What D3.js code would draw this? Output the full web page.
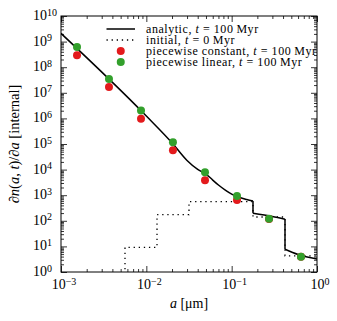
<!DOCTYPE html>
<html><head><meta charset="utf-8">
<script src="https://cdn.jsdelivr.net/npm/d3@7"></script>
<style>
body{margin:0;background:#fff}
svg{display:block}
</style>
</head><body><svg id="c" width="337" height="321" font-family="'Liberation Serif','DejaVu Serif',serif"></svg>
<script>
// ---- data ----
const binEdges = [1e-3, 2.371e-3, 5.623e-3, 1.334e-2, 3.162e-2, 7.499e-2, 0.1778, 0.4217, 1.0];
const initialN = [0, 0, 9.2, 173, 557, 557, 141, 4.3];
const pointA = [1.54e-3, 3.65e-3, 8.66e-3, 2.05e-2, 4.87e-2, 0.1155, 0.274, 0.649];
const constN = [2.92e8, 1.69e7, 9.73e5, 5.68e4, 3.82e3, 6.49e2, 1.17e2, 3.9];
const linearN = [6.15e8, 3.46e7, 2.04e6, 1.16e5, 7.85e3, 9.3e2, 1.21e2, 3.96];
const analyticA = [1e-3, 1e-2, 2e-2, 3e-2, 4e-2, 5e-2, 6e-2, 7e-2, 8.5e-2, 0.1, 0.12, 0.15, 0.1778, 0.1778, 0.3, 0.4217, 0.4217, 0.6, 1.0];
const analyticN = [2.1e9, 1.24e6, 1.11e5, 2.26e4, 1.01e4, 6.7e3, 3.9e3, 2.5e3, 1.55e3, 1.11e3, 8.5e2, 6.8e2, 5.9e2, 1.96e2, 1.47e2, 1.15e2, 7.7, 4.8, 3.2];
const xTickExp = [-3, -2, -1, 0];
const yTickExp = [0, 1, 2, 3, 4, 5, 6, 7, 8, 9, 10];
const legendLabels = [
  ["analytic, ", "t", " = 100\u2009Myr"],
  ["initial, ", "t", " = 0\u2009Myr"],
  ["piecewise constant, ", "t", " = 100\u2009Myr"],
  ["piecewise linear, ", "t", " = 100\u2009Myr"]
];
const red = "#e31a1c", green = "#33a02c";

// ---- layout ----
const L = 61, R = 317, T = 16, B = 272;
const svg = d3.select("#c");
const x = d3.scaleLog().domain([1e-3, 1]).range([L, R]);
const y = d3.scaleLog().domain([1, 1e10]).range([B, T]);

svg.append("clipPath").attr("id", "clip").append("rect")
  .attr("x", L).attr("y", T).attr("width", R - L).attr("height", B - T);

// ---- ticks ----
function allTicks(lo, hi) {
  const out = [];
  for (let e = lo; e < hi; e++) for (let m = 1; m < 10; m++) out.push(m * Math.pow(10, e));
  out.push(Math.pow(10, hi));
  return out;
}
const isMajor = (v, exps) => exps.some(e => Math.abs(Math.log10(v) - e) < 1e-9);
const xMinor = allTicks(-3, 0).filter(v => !isMajor(v, xTickExp));
const yMinor = allTicks(0, 10).filter(v => !isMajor(v, yTickExp));
const xMajor = xTickExp.map(e => Math.pow(10, e));
const yMajor = yTickExp.map(e => Math.pow(10, e));

function addAxis(gen, scale, vals, size, tr) {
  const g = svg.append("g").attr("transform", tr)
    .call(gen(scale).tickValues(vals).tickSize(-size).tickFormat(""));
  g.select(".domain").remove();
  g.selectAll(".tick line").attr("stroke", "#000").attr("stroke-width", 0.8);
  return g;
}
addAxis(d3.axisBottom, x, xMajor, 6, `translate(0,${B})`);
addAxis(d3.axisBottom, x, xMinor, 3, `translate(0,${B})`);
addAxis(d3.axisTop, x, xMajor, 6, `translate(0,${T})`);
addAxis(d3.axisTop, x, xMinor, 3, `translate(0,${T})`);
addAxis(d3.axisLeft, y, yMajor, 6, `translate(${L},0)`);
addAxis(d3.axisLeft, y, yMinor, 3, `translate(${L},0)`);
addAxis(d3.axisRight, y, yMajor, 6, `translate(${R},0)`);
addAxis(d3.axisRight, y, yMinor, 3, `translate(${R},0)`);

// tick labels
const fmtExp = e => (e < 0 ? "\u2212" + (-e) : "" + e);
const xl = svg.append("g").selectAll("text").data(xTickExp).join("text")
  .attr("x", d => x(Math.pow(10, d)) + 3).attr("y", B + 17)
  .attr("text-anchor", "middle").attr("font-size", 14);
xl.append("tspan").text("10");
xl.append("tspan").attr("dy", "-0.45em").attr("font-size", 10).text(d => fmtExp(d));

const yl = svg.append("g").selectAll("text").data(yTickExp).join("text")
  .attr("x", L - 28).attr("y", d => y(Math.pow(10, d)) + 4)
  .attr("text-anchor", "start").attr("font-size", 14);
yl.append("tspan").text("10");
yl.append("tspan").attr("dy", "-0.45em").attr("font-size", 10).text(d => fmtExp(d));

// axis labels
const xlab = svg.append("text").attr("x", (L + R) / 2).attr("y", B + 36)
  .attr("text-anchor", "middle").attr("font-size", 14);
xlab.append("tspan").attr("font-style", "italic").text("a");
xlab.append("tspan").text(" [\u03bcm]");

const ylab = svg.append("text").attr("transform", `translate(${19},${(T + B) / 2}) rotate(-90)`)
  .attr("text-anchor", "middle").attr("font-size", 14.5);
[["\u2202", 0], ["n", 1], ["(", 0], ["a", 1], [", ", 0], ["t", 1], [")/\u2202", 0], ["a", 1], [" [internal]", 0]]
  .forEach(([s, it]) => ylab.append("tspan").attr("font-style", it ? "italic" : "normal").text(s));

// ---- data marks ----
const plot = svg.append("g").attr("clip-path", "url(#clip)");

// initial step distribution
const stepPts = [];
initialN.forEach((v, i) => {
  stepPts.push([binEdges[i], v]);
  stepPts.push([binEdges[i + 1], v]);
});
const yv = v => (v > 0 ? y(v) : B + 20);
plot.append("path")
  .attr("d", d3.line().x(d => x(d[0])).y(d => yv(d[1]))(stepPts))
  .attr("fill", "none").attr("stroke", "#000").attr("stroke-width", 1.3)
  .attr("stroke-dasharray", "1.3,3.8");

// analytic curve: smooth pieces joined by vertical jumps
const smooth = d3.line().x(d => x(d[0])).y(d => y(d[1])).curve(d3.curveMonotoneX);
const straight = d3.line().x(d => x(d[0])).y(d => y(d[1]));
const pieces = [];
{
  let cur = [];
  analyticA.forEach((a, i) => {
    if (i > 0 && a === analyticA[i - 1]) { pieces.push(cur); cur = []; }
    cur.push([a, analyticN[i]]);
  });
  pieces.push(cur);
}
pieces.forEach((p, k) => {
  plot.append("path").attr("d", smooth(p))
    .attr("fill", "none").attr("stroke", "#000").attr("stroke-width", 1.5);
  if (k < pieces.length - 1) {
    plot.append("path").attr("d", straight([p[p.length - 1], pieces[k + 1][0]]))
      .attr("fill", "none").attr("stroke", "#000").attr("stroke-width", 1.5);
  }
});

// points
svg.append("g").selectAll("circle").data(pointA).join("circle")
  .attr("cx", d => x(d)).attr("cy", (d, i) => y(constN[i])).attr("r", 4)
  .attr("fill", red);
svg.append("g").selectAll("circle").data(pointA).join("circle")
  .attr("cx", d => x(d)).attr("cy", (d, i) => y(linearN[i])).attr("r", 4)
  .attr("fill", green);

// frame
svg.append("rect").attr("x", L).attr("y", T).attr("width", R - L).attr("height", B - T)
  .attr("fill", "none").attr("stroke", "#000").attr("stroke-width", 1);

// ---- legend ----
const lg = svg.append("g");
const rowY = [29, 40, 51, 62];
const lx0 = 106.5, lx1 = 135, tx = 146;
lg.append("line").attr("x1", lx0).attr("x2", lx1).attr("y1", rowY[0]).attr("y2", rowY[0])
  .attr("stroke", "#000").attr("stroke-width", 1.5);
lg.append("line").attr("x1", lx0).attr("x2", lx1).attr("y1", rowY[1]).attr("y2", rowY[1])
  .attr("stroke", "#000").attr("stroke-width", 1.3).attr("stroke-dasharray", "1.3,3.8");
lg.append("circle").attr("cx", (lx0 + lx1) / 2).attr("cy", rowY[2]).attr("r", 4).attr("fill", red);
lg.append("circle").attr("cx", (lx0 + lx1) / 2).attr("cy", rowY[3]).attr("r", 4).attr("fill", green);
const lt = lg.selectAll("text").data(legendLabels).join("text")
  .attr("x", tx).attr("y", (d, i) => rowY[i] + 3.5).attr("font-size", 12)
  .attr("letter-spacing", 0.55);
lt.append("tspan").text(d => d[0]);
lt.append("tspan").attr("font-style", "italic").text(d => d[1]);
lt.append("tspan").text(d => d[2]);
</script>
</body></html>
